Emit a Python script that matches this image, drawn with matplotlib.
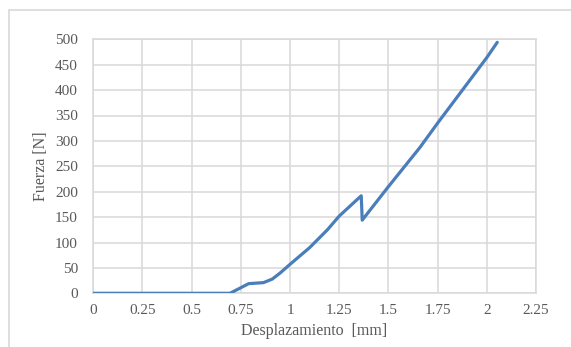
import matplotlib.pyplot as plt
from matplotlib.patches import Rectangle

# desplazamiento [mm] vs fuerza [N]
desplazamiento = [0, 0.695, 0.79, 0.865, 0.91, 0.95, 1.0, 1.1, 1.19, 1.25,
                  1.362, 1.367, 1.5, 1.66, 1.75, 2.0, 2.053]
fuerza = [0, 0, 19, 21, 28, 40, 57, 90, 125, 152,
          192, 144, 210, 287, 335, 464, 494]

x_ticks = [0, 0.25, 0.5, 0.75, 1, 1.25, 1.5, 1.75, 2, 2.25]
x_labels = ['0', '0.25', '0.5', '0.75', '1', '1.25', '1.5', '1.75', '2', '2.25']
y_ticks = list(range(0, 501, 50))

plt.rcParams['font.family'] = 'Liberation Serif'
grid_col = '#D9D9D9'
text_col = '#595959'

fig = plt.figure(figsize=(5.71, 3.47), dpi=100)
ax = fig.add_axes([93.2 / 571, 1 - 293.3 / 347, (536 - 93.2) / 571, (293.3 - 39.3) / 347])

# outer chart border (runs off the right and bottom edges)
fig.patches.append(Rectangle((9 / 571, -0.05), 1.0, 1 - 10 / 347 + 0.05,
                             transform=fig.transFigure, fill=False,
                             edgecolor=grid_col, linewidth=1.2))

ax.plot(desplazamiento, fuerza, color='#4A7EBB', linewidth=2.3,
        solid_joinstyle='round', solid_capstyle='round', zorder=3)

ax.set_xlim(0, 2.25)
ax.set_ylim(0, 500)
ax.set_xticks(x_ticks)
ax.set_xticklabels(x_labels)
ax.set_yticks(y_ticks)
ax.grid(True, color=grid_col, linewidth=1.1)
ax.set_axisbelow(True)
for s in ax.spines.values():
    s.set_color(grid_col)
    s.set_linewidth(1.1)
ax.tick_params(length=0, labelsize=11, colors=text_col)
ax.tick_params(axis='y', pad=11)
ax.tick_params(axis='x', pad=8)

ax.set_xlabel('Desplazamiento  [mm]', fontsize=11.5, color=text_col, labelpad=4)
ax.set_ylabel('Fuerza [N]', fontsize=11.5, color=text_col, labelpad=4)

fig.savefig('out.png', dpi=100)
